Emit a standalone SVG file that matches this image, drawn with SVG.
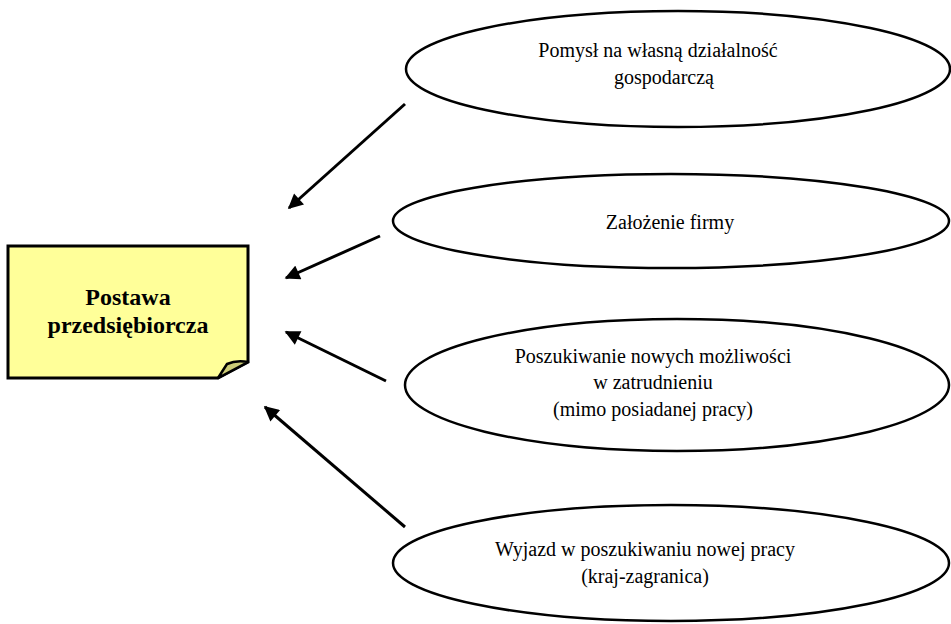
<svg xmlns="http://www.w3.org/2000/svg" width="951" height="624" viewBox="0 0 951 624">
<defs>
<style>
.ell{fill:#fff;stroke:#000;stroke-width:2.5}
text{font-family:"Liberation Serif","Tinos","Times New Roman","DejaVu Serif",serif;font-size:20px;fill:#000;text-anchor:middle}
.b{font-weight:bold;font-size:24px}
.c{stroke:#000;stroke-width:3;fill:none;marker-end:url(#ah)}
</style>
<marker id="ah" viewBox="0 0 10 10" refX="9" refY="5" markerWidth="5.5" markerHeight="5" markerUnits="strokeWidth" orient="auto">
<path d="M0,0 L10,5 L0,10 z" fill="#000"/>
</marker>
</defs>
<rect width="951" height="624" fill="#fff"/>
<g id="postawa">
<path d="M8,246 H248 V362 L218,378 H8 Z" fill="#FFFF99" stroke="#000" stroke-width="3" stroke-linejoin="miter"/>
<path d="M218,378 L227,364 Q236,360 248,362 Z" fill="#CCCC77" stroke="#000" stroke-width="2.5" stroke-linejoin="round"/>
<text class="b" x="128" y="305">Postawa</text>
<text class="b" x="128" y="333">przedsiębiorcza</text>
</g>
<g id="pomysl">
<ellipse class="ell" cx="678" cy="69" rx="272" ry="58"/>
<text x="658" y="57">Pomysł na własną działalność</text>
<text x="664" y="84">gospodarczą</text>
</g>
<g id="zalozenie">
<ellipse class="ell" cx="671" cy="221" rx="278" ry="47"/>
<text x="670" y="229">Założenie firmy</text>
</g>
<g id="poszukiwanie">
<ellipse class="ell" cx="677" cy="385" rx="272" ry="66"/>
<text x="653" y="363">Poszukiwanie nowych możliwości</text>
<text x="653" y="389">w zatrudnieniu</text>
<text x="653" y="416">(mimo posiadanej pracy)</text>
</g>
<g id="wyjazd">
<ellipse class="ell" cx="671" cy="563" rx="278" ry="58"/>
<text x="645" y="556">Wyjazd w poszukiwaniu nowej pracy</text>
<text x="645" y="583">(kraj-zagranica)</text>
</g>
<g id="connectors">
<line class="c" x1="405" y1="104" x2="289" y2="208"/>
<line class="c" x1="380" y1="236" x2="286" y2="278"/>
<line class="c" x1="386" y1="381" x2="286" y2="332"/>
<line class="c" x1="405" y1="527" x2="265" y2="407"/>
</g>
</svg>
